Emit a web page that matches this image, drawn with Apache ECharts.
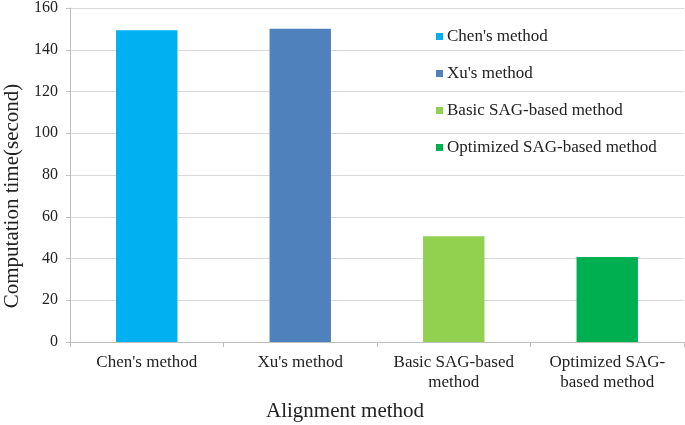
<!DOCTYPE html>
<html><head><meta charset="utf-8">
<script src="https://cdn.jsdelivr.net/npm/echarts@6/dist/echarts.min.js"></script>
<style>html,body{margin:0;padding:0;background:#fff}#c{width:685px;height:425px}</style>
</head><body><div id="c"></div>
<script>
const categories = ["Chen's method", "Xu's method", "Basic SAG-based\nmethod", "Optimized SAG-\nbased method"];
const seriesNames = ["Chen's method", "Xu's method", "Basic SAG-based method", "Optimized SAG-based method"];
const values = [149.3, 150.1, 50.7, 40.7];
const colors = ['#00B0F0', '#4F81BD', '#92D050', '#00B050'];
const yTicks = [0, 20, 40, 60, 80, 100, 120, 140, 160];

const font = '"Liberation Serif", "Times New Roman", serif';
const chart = echarts.init(document.getElementById('c'));
const series = seriesNames.map((n, i) => ({
  name: n, type: 'bar', stack: 'all', barWidth: '40%',
  itemStyle: { color: colors[i] },
  data: values.map((v, j) => j === i ? v : '-')
}));
chart.setOption({
  animation: false,
  grid: { left: 70, right: 1, top: 7, bottom: 83 },
  legend: {
    orient: 'vertical', left: 436, top: 28, itemGap: 20, padding: 0,
    icon: 'rect', itemWidth: 7, itemHeight: 7,
    textStyle: { fontFamily: font, fontSize: 17, color: '#222', padding: [0, 0, 0, -1] },
    data: seriesNames
  },
  xAxis: {
    type: 'category', data: categories,
    axisLine: { lineStyle: { color: '#bfbfbf' } },
    axisTick: { show: true, length: 5, lineStyle: { color: '#bfbfbf' } },
    axisLabel: { interval: 0, fontFamily: font, fontSize: 17, color: '#222', margin: 11, lineHeight: 20 }
  },
  yAxis: {
    type: 'value', min: yTicks[0], max: yTicks[yTicks.length - 1], interval: 20,
    axisLine: { show: true, lineStyle: { color: '#bfbfbf' } },
    axisTick: { show: true, length: 4, lineStyle: { color: '#bfbfbf' } },
    axisLabel: { fontFamily: font, fontSize: 16, color: '#222', margin: 12 },
    splitLine: { lineStyle: { color: '#d9d9d9' } }
  },
  graphic: [
    { type: 'text', x: 345, y: 411, style: { text: 'Alignment method', font: '21px ' + font, fill: '#222', textAlign: 'center', textVerticalAlign: 'middle' } },
    { type: 'text', x: 12, y: 196, rotation: Math.PI / 2, style: { text: 'Computation time(second)', font: '21px ' + font, fill: '#222', textAlign: 'center', textVerticalAlign: 'middle' } }
  ],
  series: series
});
</script></body></html>
